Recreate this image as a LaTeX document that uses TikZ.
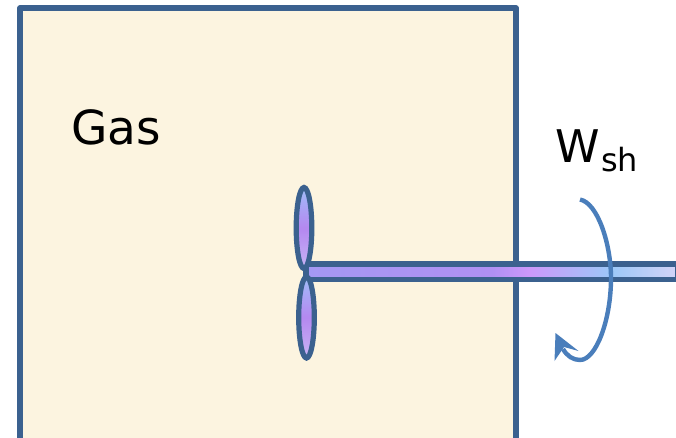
\documentclass[tikz,border=0pt]{standalone}
\usepackage{fontspec}
\setmainfont{DejaVu Sans}
\definecolor{edgeblue}{HTML}{3B618F}
\definecolor{arrowblue}{HTML}{4A7EBB}
\definecolor{gasfill}{HTML}{FCF4E0}
\definecolor{labelink}{HTML}{000000}
\definecolor{shA}{HTML}{A498F4}
\definecolor{shB}{HTML}{B090F4}
\definecolor{shC}{HTML}{CC98FA}
\definecolor{shD}{HTML}{9CC8F8}
\definecolor{shE}{HTML}{D4D4F8}
\definecolor{blA}{HTML}{C8B4F4}
\definecolor{blB}{HTML}{B488F0}
\definecolor{blC}{HTML}{A0BCF8}
\pgfdeclarehorizontalshading{shaftshade}{100bp}{
  color(0bp)=(shA);color(25bp)=(shA);color(50bp)=(shB);color(55bp)=(shC);color(66bp)=(shD);color(75bp)=(shE);color(100bp)=(shE)}
\pgfdeclareverticalshading{bladeshade}{100bp}{
  color(0bp)=(blA);color(25bp)=(blA);color(50bp)=(blB);color(75bp)=(blC);color(100bp)=(blC)}
\tikzset{
  outline/.style={draw=edgeblue,line width=5.2pt},
  blade/.style={outline,shading=bladeshade,shading angle=0},
  spin/.style={draw=arrowblue,line width=4.4pt},
  lbl/.style={inner sep=0pt,anchor=base west,text=labelink,font=\fontsize{47pt}{47pt}\selectfont}
}
\begin{document}
\begin{tikzpicture}[x=1pt,y=-1pt]
\useasboundingbox (0,0) rectangle (676,438);
\clip (0,0) rectangle (676,438);
\fill[white] (0,0) rectangle (676,438);
% gas chamber, open past the bottom edge
\fill[gasfill] (20,8) rectangle (516,445);
\draw[outline,line join=round] (20,445) -- (20,8) -- (516,8) -- (516,445);
% shaft
\draw[outline,shading=shaftshade,shading angle=0] (306,264) rectangle (678,279.5);
% blades
\draw[blade] (304,228) ellipse [x radius=7.8,y radius=40.5];
\draw[blade] (306.5,317.5) ellipse [x radius=7.8,y radius=40.5];
% rotation arrow
\draw[spin] (580,199.5) .. controls (598,203) and (611,245) .. (611,278)
  .. controls (611,320) and (596,360) .. (580,360)
  .. controls (573,360) and (567,356) .. (563,349);
\fill[arrowblue] (555.5,333) -- (578.5,351) -- (564,347) -- (554.5,361) -- cycle;
% labels
\node[lbl] (gas) at (71,145) {Gas};
\node[lbl,font=\fontsize{45pt}{45pt}\selectfont] (work) at (555,163) {W};
\node[inner sep=0pt,anchor=base west,font=\fontsize{32pt}{32pt}\selectfont] (sub) at (601,172) {sh};
\end{tikzpicture}
\end{document}
